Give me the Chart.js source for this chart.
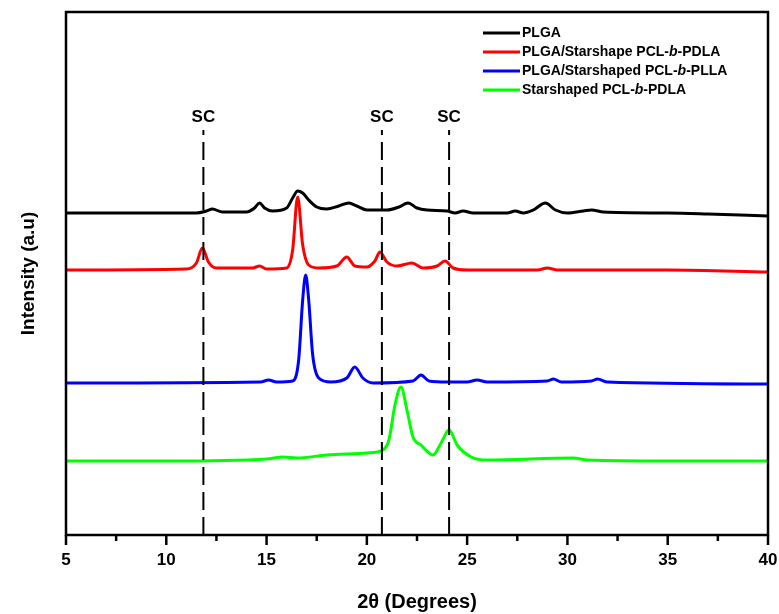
<!DOCTYPE html>
<html>
<head>
<meta charset="utf-8">
<script src="https://cdn.jsdelivr.net/npm/chart.js@4"></script>
<style>
    body { margin: 0; background: #fff; }
    #wrap { width: 779px; height: 614px; }
</style>
</head>
<body>
<div id="wrap"><canvas id="xrdChart" width="779" height="614"></canvas></div>
<script>
// 2-theta positions and intensities (arbitrary units)
const plgaX = [5, 11.5, 12.0, 12.3, 12.8, 14.0, 14.4, 14.65, 14.9, 15.3, 16.0, 16.3, 16.55, 16.8, 17.1, 17.5, 18.0, 18.6, 19.1, 19.5, 20.0, 21.0, 21.6, 22.05, 22.5, 23.0, 24.0, 24.4, 24.8, 25.3, 27.0, 27.4, 27.8, 28.3, 28.9, 29.4, 30.0, 30.8, 31.2, 31.8, 35, 37, 40];
const plgaY = [322, 322, 324, 326, 323, 323, 327, 332, 327, 324, 327, 337, 344, 342, 335, 328, 326, 329, 332, 329, 325, 325, 328, 332, 327, 325, 324, 322, 324, 322, 322, 324, 322, 325, 332, 325, 322, 324, 325, 323, 322, 321, 319];

const pdlaBlendX = [5, 11.0, 11.5, 11.8, 12.1, 12.5, 14.3, 14.65, 15.0, 16.0, 16.3, 16.55, 16.8, 17.1, 17.6, 18.5, 19.0, 19.4, 20.0, 20.4, 20.65, 21.0, 21.5, 22.25, 22.8, 23.5, 23.9, 24.3, 25, 28.5, 29, 29.5, 35, 40];
const pdlaBlendY = [265, 266, 272, 287, 273, 267, 267, 269, 266, 267, 285, 338, 290, 270, 267, 269, 278, 269, 268, 274, 283, 273, 269, 272, 267, 269, 274, 267, 265, 265, 267, 265, 265, 263];

const pllaBlendX = [5, 14.7, 15.1, 15.5, 16.3, 16.6, 16.8, 16.95, 17.1, 17.3, 17.6, 18.2, 19.0, 19.4, 19.8, 20.3, 22.3, 22.7, 23.1, 24.0, 25.0, 25.5, 26.0, 29.0, 29.3, 29.7, 31.2, 31.5, 32.0, 40];
const pllaBlendY = [152, 153, 155, 153, 154, 175, 235, 260, 235, 180, 157, 153, 157, 168, 157, 152, 154, 160, 154, 153, 153, 155, 153, 154, 156, 153, 154, 156, 153, 151];

const starX = [5, 10, 15, 15.8, 16.5, 18, 20, 20.8, 21.1, 21.4, 21.7, 22.0, 22.3, 22.7, 23.3, 23.7, 24.1, 24.5, 25.2, 26, 30.3, 31, 35, 40];
const starY = [74, 74, 76, 78, 77, 80, 82, 85, 95, 130, 148, 125, 98, 90, 80, 92, 105, 90, 78, 75, 77, 75, 74, 74];

// sc reflection positions (dashed markers)
const scPositions = [11.85, 20.75, 24.1];
const scLabel = 'SC';

const xTicks = { min: 5, max: 40, step: 2.5, labelEvery: 5 };
const yRange = [0, 523];
const dashTop = 405;

const seriesNames = [
    ['PLGA'],
    ['PLGA/Starshape PCL-', 'b', '-PDLA'],
    ['PLGA/Starshaped PCL-', 'b', '-PLLA'],
    ['Starshaped PCL-', 'b', '-PDLA']
];
const seriesColors = ['#000000', '#ff0000', '#0000ff', '#00ff00'];

const FONT = '"Liberation Sans", Arial, sans-serif';

function toPoints(xs, ys) {
    return xs.map((x, i) => ({ x: x, y: ys[i] }));
}

const curves = [
    toPoints(plgaX, plgaY),
    toPoints(pdlaBlendX, pdlaBlendY),
    toPoints(pllaBlendX, pllaBlendY),
    toPoints(starX, starY)
];

const datasets = curves.map((pts, i) => ({
    label: seriesNames[i].join(''),
    data: pts,
    borderColor: seriesColors[i],
    borderWidth: 3,
    pointRadius: 0,
    fill: false,
    cubicInterpolationMode: 'monotone',
    order: 4 - i
}));

scPositions.forEach(p => {
    datasets.push({
        label: scLabel,
        data: [{ x: p, y: yRange[0] }, { x: p, y: dashTop }],
        borderColor: '#000',
        borderWidth: 2,
        borderDash: [18, 7],
        pointRadius: 0,
        order: 0
    });
});

// frame, tick marks, SC labels and legend
const decorPlugin = {
    id: 'decor',
    afterDraw(chart) {
        const ctx = chart.ctx;
        const area = chart.chartArea;
        const xs = chart.scales.x;
        const ys = chart.scales.y;

        ctx.save();
        ctx.strokeStyle = '#000';
        ctx.lineWidth = 2.5;
        ctx.strokeRect(area.left, area.top, area.right - area.left, area.bottom - area.top);

        xs.ticks.forEach(t => {
            const px = xs.getPixelForValue(t.value);
            const major = t.value % xTicks.labelEvery === 0;
            ctx.beginPath();
            ctx.moveTo(px, area.bottom);
            ctx.lineTo(px, area.bottom + (major ? 10 : 6));
            ctx.stroke();
        });

        ctx.fillStyle = '#000';
        ctx.font = 'bold 17px ' + FONT;
        ctx.textAlign = 'center';
        ctx.textBaseline = 'middle';
        scPositions.forEach(p => {
            ctx.fillText(scLabel, xs.getPixelForValue(p), ys.getPixelForValue(dashTop) - 13);
        });

        // legend
        const lx = area.right - 285;
        ctx.textAlign = 'left';
        seriesNames.forEach((parts, i) => {
            const ly = area.top + 21 + i * 19;
            ctx.strokeStyle = seriesColors[i];
            ctx.lineWidth = 3;
            ctx.beginPath();
            ctx.moveTo(lx, ly);
            ctx.lineTo(lx + 37, ly);
            ctx.stroke();
            let tx = lx + 39;
            parts.forEach((s, k) => {
                ctx.font = (k === 1 ? 'italic bold 14px ' : 'bold 14px ') + FONT;
                ctx.fillStyle = '#000';
                ctx.fillText(s, tx, ly);
                tx += ctx.measureText(s).width;
            });
        });
        ctx.restore();
    }
};

new Chart(document.getElementById('xrdChart'), {
    type: 'line',
    data: { datasets: datasets },
    options: {
        responsive: false,
        animation: false,
        layout: { padding: { top: 12, right: 11, left: 0, bottom: 0 } },
        plugins: {
            legend: { display: false },
            tooltip: { enabled: false }
        },
        scales: {
            x: {
                type: 'linear',
                min: xTicks.min,
                max: xTicks.max,
                afterFit: s => { s.height = 79; s.paddingLeft = 0; s.paddingRight = 0; },
                grid: { display: false, drawTicks: false },
                border: { display: false },
                ticks: {
                    stepSize: xTicks.step,
                    autoSkip: false,
                    maxRotation: 0,
                    padding: 15,
                    color: '#000',
                    font: { family: FONT, size: 17, weight: 'bold' },
                    callback: v => (v % xTicks.labelEvery === 0 ? v : '')
                },
                title: {
                    display: true,
                    text: '2θ (Degrees)',
                    color: '#000',
                    padding: { top: 0, bottom: 0 },
                    font: { family: FONT, size: 20, weight: 'bold' }
                }
            },
            y: {
                min: yRange[0],
                max: yRange[1],
                afterFit: s => { s.width = 66; },
                grid: { display: false, drawTicks: false },
                border: { display: false },
                ticks: { display: false },
                title: {
                    display: true,
                    text: 'Intensity (a.u)',
                    color: '#000',
                    padding: { top: 17, bottom: 0 },
                    font: { family: FONT, size: 19, weight: 'bold' }
                }
            }
        }
    },
    plugins: [decorPlugin]
});
</script>
</body>
</html>
